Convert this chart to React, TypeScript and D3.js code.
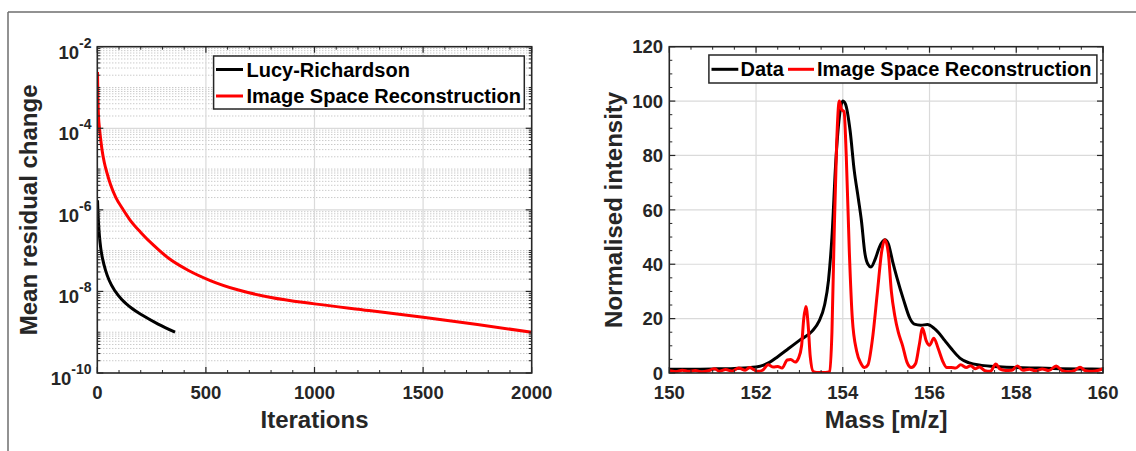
import React from 'react';
import * as d3 from 'd3';

// ---------- Data ----------
// Left panel: mean residual change vs iterations
const lrIterations = [1, 3, 6, 10, 16, 25, 38, 55, 80, 115, 160, 210, 280, 358];
const lrResidual = [1.71e-6, 8.7e-7, 4.4e-7, 2.23e-7, 1.13e-7, 6.1e-8, 3.27e-8, 1.85e-8, 1.05e-8, 6.15e-9, 3.8e-9, 2.56e-9, 1.58e-9, 1.0e-9];

const isrIterations = [1, 3, 6, 10, 15, 22, 32, 45, 62, 85, 115, 150, 200, 260, 330, 420, 520, 650, 800, 1000, 1250, 1500, 1750, 2000];
const isrResidual = [2.39e-3, 4.9e-4, 1.77e-4, 1.0e-4, 5.7e-5, 2.9e-5, 1.47e-5, 7.9e-6, 4.0e-6, 2.03e-6, 1.09e-6, 5.7e-7, 2.8e-7, 1.34e-7, 6.4e-8, 3.26e-8, 1.85e-8, 1.08e-8, 7.1e-9, 4.95e-9, 3.4e-9, 2.32e-9, 1.54e-9, 1.0e-9];

// Right panel: normalised intensity vs mass
const dataMass = [150.0, 150.5, 151.0, 151.5, 152.0, 152.3, 152.5, 152.75, 153.0, 153.3, 153.45, 153.58, 153.67, 153.75, 153.84, 153.92, 154.0, 154.06, 154.17, 154.26, 154.36, 154.43, 154.51, 154.58, 154.65, 154.75, 154.85, 154.97, 155.05, 155.15, 155.25, 155.4, 155.55, 155.65, 155.8, 155.95, 156.1, 156.2, 156.35, 156.5, 156.7, 156.9, 157.2, 157.6, 158.0, 158.5, 159.0, 159.5, 160.0];
const dataIntensity = [1.4, 1.4, 1.5, 1.7, 2.2, 3.8, 6.0, 9.0, 12.0, 15.5, 19.0, 25.0, 34.0, 50.0, 78.0, 94.0, 100.0, 99.0, 89.0, 75.0, 64.0, 56.0, 44.0, 40.0, 39.0, 42.0, 46.5, 49.0, 47.5, 41.0, 35.0, 27.0, 20.0, 18.0, 17.6, 17.8, 16.5, 15.0, 12.0, 9.0, 5.5, 3.8, 2.8, 2.3, 2.0, 1.8, 1.6, 1.5, 1.4];

const isrMass = [150.0, 150.15, 150.3, 150.45, 150.6, 150.75, 150.9, 151.05, 151.15, 151.3, 151.45, 151.6, 151.75, 151.85, 151.95, 152.05, 152.15, 152.28, 152.4, 152.5, 152.6, 152.72, 152.8, 152.9, 152.98, 153.05, 153.1, 153.15, 153.2, 153.25, 153.32, 153.4, 153.5, 153.6, 153.7, 153.75, 153.8, 153.86, 153.92, 153.97, 154.03, 154.08, 154.15, 154.22, 154.32, 154.42, 154.5, 154.58, 154.68, 154.8, 154.9, 154.97, 155.05, 155.12, 155.2, 155.28, 155.38, 155.48, 155.58, 155.68, 155.76, 155.84, 155.92, 156.0, 156.1, 156.2, 156.3, 156.4, 156.5, 156.6, 156.72, 156.85, 156.95, 157.05, 157.15, 157.28, 157.4, 157.53, 157.62, 157.75, 157.9, 158.03, 158.15, 158.3, 158.45, 158.6, 158.75, 158.92, 159.05, 159.2, 159.35, 159.47, 159.6, 159.75, 159.9, 160.0];
const isrIntensity = [0.8, 0.5, 1.0, 0.6, 0.9, 0.4, 0.8, 1.6, 0.6, 1.3, 0.7, 1.8, 1.0, 2.0, 1.2, 0.6, 1.0, 3.0, 2.2, 2.4, 1.8, 4.8, 5.0, 4.0, 5.5, 10, 20, 24.5, 18, 6, 0.5, 0.2, 0.2, 0.2, 0.5, 15, 50, 85, 100, 97, 96, 80, 45, 20, 8, 3.5, 2, 3, 12, 30, 45, 49, 44, 30, 21, 15, 10, 4, 2, 3.5, 10, 16.5, 12, 10.2, 12.8, 9, 4.5, 2, 2, 1.8, 3, 2, 2.7, 1.6, 2.2, 0.8, 0.6, 3.3, 1.5, 0.9, 1.0, 2.6, 1.0, 1.4, 0.8, 1.5, 0.9, 2.6, 1.0, 0.5, 1.0, 2.1, 0.8, 0.6, 1.0, 1.6];

const leftXTicks = [0, 500, 1000, 1500, 2000];
const leftYExponents = [-10, -8, -6, -4, -2];
const rightXTicks = [150, 152, 154, 156, 158, 160];
const rightYTicks = [0, 20, 40, 60, 80, 100, 120];

const leftLegend = ['Lucy-Richardson', 'Image Space Reconstruction'];
const rightLegend = ['Data', 'Image Space Reconstruction'];

// ---------- Styles ----------
const FONT = '"Liberation Sans", Arial, Helvetica, sans-serif';
const AX = '#262626';
const GRID = '#dadada';
const MINOR = '#b4b4b4';

export default function App() {
  const L = { x0: 97.3, x1: 531.7, y0: 46.7, y1: 373 };
  const R = { x0: 669.3, x1: 1103, y0: 46.7, y1: 373 };

  const xL = d3.scaleLinear().domain([0, 2000]).range([L.x0, L.x1]);
  const yL = d3.scaleLog().domain([1e-10, 1e-2]).range([L.y1, L.y0]);
  const xR = d3.scaleLinear().domain([150, 160]).range([R.x0, R.x1]);
  const yR = d3.scaleLinear().domain([0, 120]).range([R.y1, R.y0]);

  const lineL = d3.line<[number, number]>().x(d => xL(d[0])).y(d => yL(d[1])).curve(d3.curveMonotoneX);
  const lineR = d3.line<[number, number]>().x(d => xR(d[0])).y(d => yR(d[1])).curve(d3.curveMonotoneX);

  const lrPts = lrIterations.map((v, i) => [v, lrResidual[i]] as [number, number]);
  const isrPts = isrIterations.map((v, i) => [v, isrResidual[i]] as [number, number]);
  const dataPts = dataMass.map((v, i) => [v, dataIntensity[i]] as [number, number]);
  const isrMPts = isrMass.map((v, i) => [v, isrIntensity[i]] as [number, number]);

  const logMinor: number[] = [];
  for (let p = -10; p < -2; p++) {
    for (let k = 1; k <= 9; k++) {
      if (k === 1 && p % 2 === 0) continue;
      logMinor.push(k * Math.pow(10, p));
    }
  }
  const leftXMinor = d3.range(0, 2001, 100).filter(v => v % 500 !== 0);
  const rightXMinor = d3.range(150.5, 160, 1);
  const rightYMinor = d3.range(0, 121, 5).filter(v => v % 20 !== 0);

  const MAJ = 6, MIN = 3;

  return (
    <svg width={1136} height={451} style={{ position: 'absolute', left: 0, top: 0, background: '#fff' }} fontFamily={FONT}>
      <rect x={0} y={0} width={1136} height={451} fill="#fff" />
      <line x1={8} y1={12} x2={1136} y2={12} stroke="#6e6e6e" strokeWidth={1.5} />
      <line x1={8} y1={12} x2={8} y2={451} stroke="#6e6e6e" strokeWidth={1.5} />

      <defs>
        <clipPath id="clipL"><rect x={L.x0} y={L.y0} width={L.x1 - L.x0} height={L.y1 - L.y0} /></clipPath>
        <clipPath id="clipR"><rect x={R.x0} y={R.y0} width={R.x1 - R.x0} height={R.y1 - R.y0} /></clipPath>
      </defs>

      {/* ---------- LEFT PANEL ---------- */}
      <rect x={L.x0} y={L.y0} width={L.x1 - L.x0} height={L.y1 - L.y0} fill="#fff" />
      {logMinor.map((v, i) => (
        <line key={'lm' + i} x1={L.x0} x2={L.x1} y1={yL(v)} y2={yL(v)} stroke={MINOR} strokeWidth={1} strokeDasharray="1 2" />
      ))}
      {leftYExponents.slice(1, -1).map(p => (
        <line key={'lg' + p} x1={L.x0} x2={L.x1} y1={yL(Math.pow(10, p))} y2={yL(Math.pow(10, p))} stroke={GRID} strokeWidth={1.2} />
      ))}
      {leftXTicks.slice(1, -1).map(v => (
        <line key={'lgx' + v} x1={xL(v)} x2={xL(v)} y1={L.y0} y2={L.y1} stroke={GRID} strokeWidth={1.2} />
      ))}
      <g clipPath="url(#clipL)">
        <path d={lineL(isrPts) || ''} fill="none" stroke="#ff0000" strokeWidth={3} />
        <path d={lineL(lrPts) || ''} fill="none" stroke="#000" strokeWidth={3} />
      </g>
      {leftXTicks.map(v => (
        <g key={'ltx' + v}>
          <line x1={xL(v)} x2={xL(v)} y1={L.y1} y2={L.y1 - MAJ} stroke={AX} strokeWidth={1.2} />
          <line x1={xL(v)} x2={xL(v)} y1={L.y0} y2={L.y0 + MAJ} stroke={AX} strokeWidth={1.2} />
        </g>
      ))}
      {leftXMinor.map(v => (
        <g key={'ltxm' + v}>
          <line x1={xL(v)} x2={xL(v)} y1={L.y1} y2={L.y1 - MIN} stroke={AX} strokeWidth={1} />
          <line x1={xL(v)} x2={xL(v)} y1={L.y0} y2={L.y0 + MIN} stroke={AX} strokeWidth={1} />
        </g>
      ))}
      {leftYExponents.map(p => (
        <g key={'lty' + p}>
          <line x1={L.x0} x2={L.x0 + MAJ} y1={yL(Math.pow(10, p))} y2={yL(Math.pow(10, p))} stroke={AX} strokeWidth={1.2} />
          <line x1={L.x1} x2={L.x1 - MAJ} y1={yL(Math.pow(10, p))} y2={yL(Math.pow(10, p))} stroke={AX} strokeWidth={1.2} />
        </g>
      ))}
      {logMinor.map((v, i) => (
        <g key={'ltym' + i}>
          <line x1={L.x0} x2={L.x0 + MIN} y1={yL(v)} y2={yL(v)} stroke={AX} strokeWidth={1} />
          <line x1={L.x1} x2={L.x1 - MIN} y1={yL(v)} y2={yL(v)} stroke={AX} strokeWidth={1} />
        </g>
      ))}
      <rect x={L.x0} y={L.y0} width={L.x1 - L.x0} height={L.y1 - L.y0} fill="none" stroke={AX} strokeWidth={1.6} />
      {leftXTicks.map(v => (
        <text key={'ltl' + v} x={xL(v)} y={399} textAnchor="middle" fontSize={18.5} fontWeight="bold" fill={AX}>{v}</text>
      ))}
      {leftYExponents.map(p => (
        <text key={'lyl' + p} x={91.5} y={yL(Math.pow(10, p)) + 12} textAnchor="end" fontSize={18.5} fontWeight="bold" fill={AX}>
          10<tspan fontSize={14} dy={-11}>{String(p)}</tspan>
        </text>
      ))}
      <text x={(L.x0 + L.x1) / 2} y={428} textAnchor="middle" fontSize={24} fontWeight="bold" fill={AX}>Iterations</text>
      <text transform={`translate(37,${(L.y0 + L.y1) / 2}) rotate(-90)`} textAnchor="middle" fontSize={24} fontWeight="bold" fill={AX}>Mean residual change</text>
      <rect x={213.6} y={56} width={310.7} height={53} fill="#fff" stroke={AX} strokeWidth={1.5} />
      <line x1={216} x2={243} y1={69.5} y2={69.5} stroke="#000" strokeWidth={3} />
      <text x={246.5} y={76.5} fontSize={20} fontWeight="bold" fill="#000">{leftLegend[0]}</text>
      <line x1={216} x2={243} y1={96} y2={96} stroke="#ff0000" strokeWidth={3} />
      <text x={246.5} y={103} fontSize={20} fontWeight="bold" fill="#000">{leftLegend[1]}</text>

      {/* ---------- RIGHT PANEL ---------- */}
      <rect x={R.x0} y={R.y0} width={R.x1 - R.x0} height={R.y1 - R.y0} fill="#fff" />
      {rightXTicks.slice(1, -1).map(v => (
        <line key={'rgx' + v} x1={xR(v)} x2={xR(v)} y1={R.y0} y2={R.y1} stroke={GRID} strokeWidth={1.2} />
      ))}
      {rightYTicks.slice(1, -1).map(v => (
        <line key={'rgy' + v} x1={R.x0} x2={R.x1} y1={yR(v)} y2={yR(v)} stroke={GRID} strokeWidth={1.2} />
      ))}
      <g clipPath="url(#clipR)">
        <path d={lineR(dataPts) || ''} fill="none" stroke="#000" strokeWidth={3} />
        <path d={lineR(isrMPts) || ''} fill="none" stroke="#ff0000" strokeWidth={3} />
      </g>
      {rightXTicks.map(v => (
        <g key={'rtx' + v}>
          <line x1={xR(v)} x2={xR(v)} y1={R.y1} y2={R.y1 - MAJ} stroke={AX} strokeWidth={1.2} />
          <line x1={xR(v)} x2={xR(v)} y1={R.y0} y2={R.y0 + MAJ} stroke={AX} strokeWidth={1.2} />
        </g>
      ))}
      {d3.range(150, 160.01, 0.5).filter(v => Math.round(v * 2) % 4 !== 0).map(v => (
        <g key={'rtxm' + v}>
          <line x1={xR(v)} x2={xR(v)} y1={R.y1} y2={R.y1 - MIN} stroke={AX} strokeWidth={1} />
          <line x1={xR(v)} x2={xR(v)} y1={R.y0} y2={R.y0 + MIN} stroke={AX} strokeWidth={1} />
        </g>
      ))}
      {rightYTicks.map(v => (
        <g key={'rty' + v}>
          <line x1={R.x0} x2={R.x0 + MAJ} y1={yR(v)} y2={yR(v)} stroke={AX} strokeWidth={1.2} />
          <line x1={R.x1} x2={R.x1 - MAJ} y1={yR(v)} y2={yR(v)} stroke={AX} strokeWidth={1.2} />
        </g>
      ))}
      {rightYMinor.map(v => (
        <g key={'rtym' + v}>
          <line x1={R.x0} x2={R.x0 + MIN} y1={yR(v)} y2={yR(v)} stroke={AX} strokeWidth={1} />
          <line x1={R.x1} x2={R.x1 - MIN} y1={yR(v)} y2={yR(v)} stroke={AX} strokeWidth={1} />
        </g>
      ))}
      <rect x={R.x0} y={R.y0} width={R.x1 - R.x0} height={R.y1 - R.y0} fill="none" stroke={AX} strokeWidth={1.6} />
      {rightXTicks.map(v => (
        <text key={'rtl' + v} x={xR(v)} y={399} textAnchor="middle" fontSize={18.5} fontWeight="bold" fill={AX}>{v}</text>
      ))}
      {rightYTicks.map(v => (
        <text key={'ryl' + v} x={663} y={yR(v) + 6.7} textAnchor="end" fontSize={18.5} fontWeight="bold" fill={AX}>{v}</text>
      ))}
      <text x={(R.x0 + R.x1) / 2} y={428} textAnchor="middle" fontSize={24} fontWeight="bold" fill={AX}>Mass [m/z]</text>
      <text transform={`translate(622,${(R.y0 + R.y1) / 2}) rotate(-90)`} textAnchor="middle" fontSize={24} fontWeight="bold" fill={AX}>Normalised intensity</text>
      <rect x={708.9} y={55} width={388} height={28} fill="#fff" stroke={AX} strokeWidth={1.5} />
      <line x1={711.5} x2={738.3} y1={69.3} y2={69.3} stroke="#000" strokeWidth={3} />
      <text x={740.5} y={76.3} fontSize={20} fontWeight="bold" fill="#000">{rightLegend[0]}</text>
      <line x1={788} x2={814} y1={69.3} y2={69.3} stroke="#ff0000" strokeWidth={3} />
      <text x={817} y={76.3} fontSize={20} fontWeight="bold" fill="#000">{rightLegend[1]}</text>
    </svg>
  );
}
